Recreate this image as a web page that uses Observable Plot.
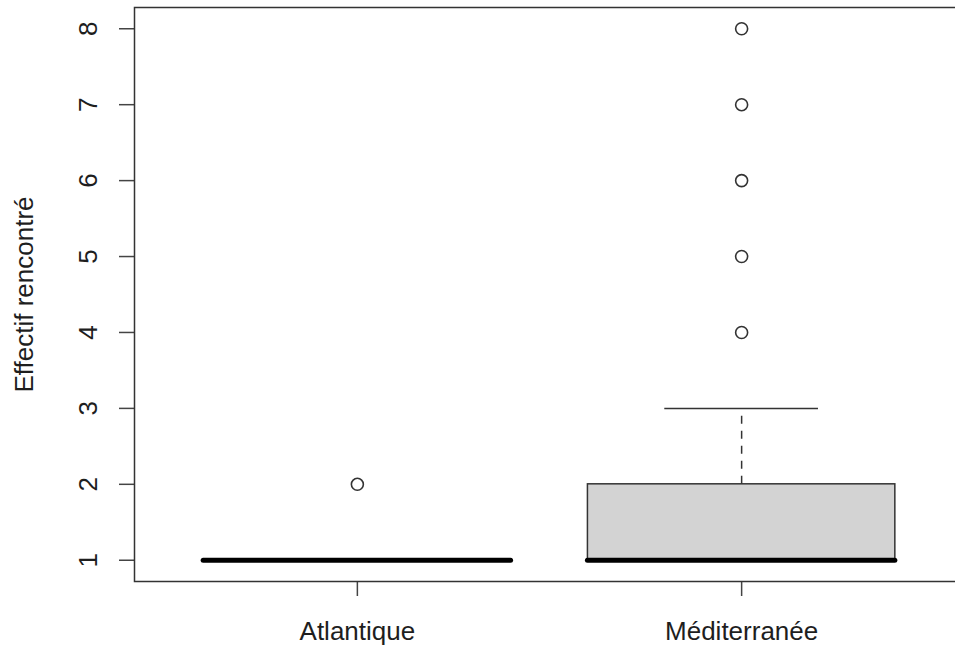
<!DOCTYPE html>
<html>
<head>
<meta charset="utf-8">
<script src="https://cdn.jsdelivr.net/npm/d3@7"></script>
<script src="https://cdn.jsdelivr.net/npm/@observablehq/plot@0.6"></script>
<style>
  html, body { margin: 0; padding: 0; overflow: hidden; background: #fff; }
</style>
</head>
<body>
<div id="chart"></div>
<script>
// Data
const categories = ["Atlantique", "Méditerranée"];
const lowerWhisker = [1, 1];
const q1 = [1, 1];
const median = [1, 1];
const q3 = [1, 2];
const upperWhisker = [1, 3];
const outlierCategory = ["Atlantique", "Méditerranée", "Méditerranée", "Méditerranée", "Méditerranée", "Méditerranée"];
const outlierValue = [2, 4, 5, 6, 7, 8];
const yTicks = [1, 2, 3, 4, 5, 6, 7, 8];
const yLabel = "Effectif rencontré";

const boxes = categories.map((c, i) => ({
  cat: c, pos: i + 1,
  lo: lowerWhisker[i], q1: q1[i], med: median[i], q3: q3[i], hi: upperWhisker[i]
}));
const outliers = outlierCategory.map((c, i) => ({ pos: categories.indexOf(c) + 1, value: outlierValue[i] }));

const font = "'Liberation Sans', Arial, Helvetica, sans-serif";
const ink = "#1e1e1e";

const chart = Plot.plot({
  width: 955,
  height: 648,
  marginLeft: 134,
  marginRight: -9,
  marginTop: 7,
  marginBottom: 67,
  style: { fontFamily: font, fontSize: "26px", color: ink, background: "#fff", overflow: "hidden" },
  x: { type: "linear", domain: [0.42, 2.58], axis: null, label: null },
  y: { type: "linear", domain: [0.72, 8.28], axis: null, label: null },
  marks: [
    // boxes
    Plot.rect(boxes, { x1: d => d.pos - 0.4, x2: d => d.pos + 0.4, y1: "q1", y2: "q3", fill: "#d3d3d3", stroke: "#333", strokeWidth: 1.5 }),
    // whiskers (dashed)
    Plot.ruleX(boxes, { x: "pos", y1: "q3", y2: "hi", stroke: "#333", strokeWidth: 1.5, strokeDasharray: "8,7" }),
    Plot.ruleX(boxes, { x: "pos", y1: "lo", y2: "q1", stroke: "#333", strokeWidth: 1.5, strokeDasharray: "8,7" }),
    // caps
    Plot.ruleY(boxes, { y: "hi", x1: d => d.pos - 0.2, x2: d => d.pos + 0.2, stroke: "#333", strokeWidth: 1.5 }),
    Plot.ruleY(boxes, { y: "lo", x1: d => d.pos - 0.2, x2: d => d.pos + 0.2, stroke: "#333", strokeWidth: 1.5 }),
    // medians
    Plot.ruleY(boxes, { y: "med", x1: d => d.pos - 0.4, x2: d => d.pos + 0.4, stroke: "#000", strokeWidth: 5, strokeLinecap: "round" }),
    // outliers
    Plot.dot(outliers, { x: "pos", y: "value", r: 6, stroke: "#333", strokeWidth: 1.6, fill: "none" }),
    // axes ticks
    Plot.axisY({ ticks: yTicks, tickSize: 15, tickFormat: () => "", label: null, stroke: "#444", strokeWidth: 1.5 }),
    Plot.axisX({ ticks: [1, 2], tickSize: 15, tickFormat: () => "", label: null, stroke: "#444", strokeWidth: 1.5 }),
    // y tick labels (rotated like R las=0)
    Plot.text(yTicks, { y: d => d, frameAnchor: "left", dx: -38, rotate: -90, textAnchor: "middle", lineAnchor: "bottom", fill: ink, fontSize: 26 }),
    // x tick labels
    Plot.text(categories, { x: (d, i) => i + 1, frameAnchor: "bottom", dy: 58, lineAnchor: "bottom", textAnchor: "middle", fill: ink, fontSize: 26 }),
    // y axis title
    Plot.text([yLabel], { frameAnchor: "left", dx: -102, rotate: -90, textAnchor: "middle", lineAnchor: "bottom", fill: ink, fontSize: 26 }),
    // frame
    Plot.frame({ stroke: "#333", strokeWidth: 1.5 })
  ]
});
document.getElementById("chart").appendChild(chart);
</script>
</body>
</html>
